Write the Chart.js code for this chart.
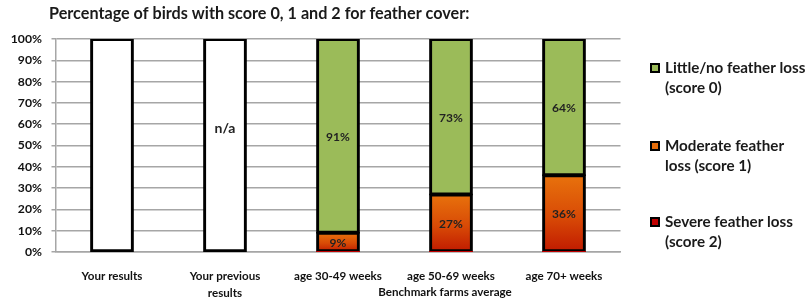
<!DOCTYPE html>
<html><head><meta charset="utf-8">
<script src="https://cdn.jsdelivr.net/npm/chart.js@4.4.1/dist/chart.umd.min.js"></script>
<style>html,body{margin:0;padding:0;background:#fff}#wrap{width:811px;height:303px;position:relative}</style>
</head><body><div id="wrap"><canvas id="c" width="811" height="303"></canvas></div>
<script>
const titleText = 'Percentage of birds with score 0, 1 and 2 for feather cover:';
const categories = ['Your results', ['Your previous', 'results'], 'age 30-49 weeks', 'age 50-69 weeks', 'age 70+ weeks'];
const groupLabel = 'Benchmark farms average';
const blankBars = [100, 100, null, null, null];
const severe = [null, null, 0, 0, 0];
const moderate = [null, null, 9, 27, 36];
const little = [null, null, 91, 73, 64];
const naText = ['', 'n/a', '', '', ''];
const naValue = 58;
const legendItems = [
  ['Little/no feather loss', '(score 0)'],
  ['Moderate feather', 'loss (score 1)'],
  ['Severe feather loss', '(score 2)']
];
const yTicks = [0,10,20,30,40,50,60,70,80,90,100];

const FONT = 'Lato, "Open Sans", sans-serif';
const GREEN = '#9BBB59', ORANGE = '#E46C0A', RED = '#C00000';

function orangeGrad(ctx) {
  const chart = ctx.chart;
  if (!chart.chartArea || ctx.parsed == null || ctx.parsed.y == null) return ORANGE;
  const ys = chart.scales.y;
  const top = ys.getPixelForValue(ctx.parsed.y);
  const bot = ys.getPixelForValue(0);
  if (!isFinite(top) || !isFinite(bot) || top === bot) return ORANGE;
  const g = chart.ctx.createLinearGradient(0, top, 0, bot);
  g.addColorStop(0, '#E8720C');
  g.addColorStop(0.55, '#D84A06');
  g.addColorStop(1, '#C01A00');
  return g;
}

const overlay = {
  id: 'overlay',
  afterDatasetsDraw(chart) {
    const c = chart.ctx;
    const ys = chart.scales.y, xs = chart.scales.x;
    c.save();
    c.font = 'bold 12px ' + FONT;
    c.fillStyle = '#222';
    c.textAlign = 'center';
    c.textBaseline = 'middle';
    [1, 2, 3].forEach(di => {
      const ds = chart.data.datasets[di];
      const meta = chart.getDatasetMeta(di);
      meta.data.forEach((el, i) => {
        const v = ds.data[i];
        if (v == null || v === 0) return;
        const p = el.getProps(['x', 'y', 'base'], true);
        c.fillText(v + '%', p.x, (p.y + p.base) / 2 + 1);
      });
    });
    c.font = 'bold 14px ' + FONT;
    naText.forEach((t, i) => {
      if (!t) return;
      c.fillText(t, xs.getPixelForValue(i), ys.getPixelForValue(naValue));
    });
    c.font = 'bold 16.2px ' + FONT;
    c.fillStyle = '#1a1a1a';
    c.textAlign = 'left';
    c.fillText(titleText, 49, 14);
    c.font = 'bold 11.6px ' + FONT;
    c.textAlign = 'center';
    c.fillStyle = '#111';
    c.fillText(groupLabel, (xs.getPixelForValue(2) + xs.getPixelForValue(4)) / 2 - 6, 292);
    const cols = [GREEN, ORANGE, RED];
    const ys0 = [68, 146, 222];
    legendItems.forEach((lines, k) => {
      const y0 = ys0[k];
      c.fillStyle = '#000';
      c.fillRect(650, y0 - 5, 10, 10);
      c.fillStyle = cols[k];
      c.fillRect(652, y0 - 3, 6, 6);
      c.fillStyle = '#1a1a1a';
      c.textAlign = 'left';
      c.font = 'bold 15.2px ' + FONT;
      lines.forEach((ln, j) => c.fillText(ln, 665, y0 + j * 20));
    });
    c.restore();
  }
};

new Chart(document.getElementById('c'), {
  type: 'bar',
  data: {
    labels: categories,
    datasets: [
      { label: 'blank', data: blankBars, backgroundColor: '#FFFFFF', borderColor: '#000', borderWidth: 3 },
      { label: 'Severe feather loss (score 2)', data: severe, backgroundColor: RED, borderColor: '#000', borderWidth: 0 },
      { label: 'Moderate feather loss (score 1)', data: moderate, backgroundColor: orangeGrad, borderColor: '#000', borderWidth: 3 },
      { label: 'Little/no feather loss (score 0)', data: little, backgroundColor: GREEN, borderColor: '#000', borderWidth: 3 }
    ]
  },
  options: {
    responsive: false,
    animation: false,
    events: [],
    layout: { padding: { top: 39, right: 190.5, bottom: 0, left: 0 } },
    datasets: { bar: { categoryPercentage: 1, barPercentage: 0.37, borderSkipped: false, inflateAmount: 1 } },
    plugins: { legend: { display: false }, title: { display: false }, tooltip: { enabled: false } },
    scales: {
      x: {
        stacked: true,
        grid: { display: false, drawTicks: false },
        border: { display: true, color: '#A6A6A6', width: 1.5 },
        ticks: { color: '#111', font: { family: FONT, weight: 'bold', size: 11.6, lineHeight: 1.45 }, padding: 16, maxRotation: 0, autoSkip: false },
        afterFit(s) { s.height = 51; }
      },
      y: {
        stacked: true,
        min: 0, max: 100,
        afterBuildTicks(s) { s.ticks = yTicks.map(v => ({ value: v })); },
        grid: { color: '#A6A6A6', lineWidth: 1.5, tickLength: 4 },
        border: { display: true, color: '#A6A6A6', width: 1.5 },
        ticks: { color: '#111', font: { family: FONT, weight: 'bold', size: 12.2 }, padding: 9.5, callback: v => v + '%' },
        afterFit(s) { s.width = 55.5; }
      }
    }
  },
  plugins: [overlay]
});
</script></body></html>
